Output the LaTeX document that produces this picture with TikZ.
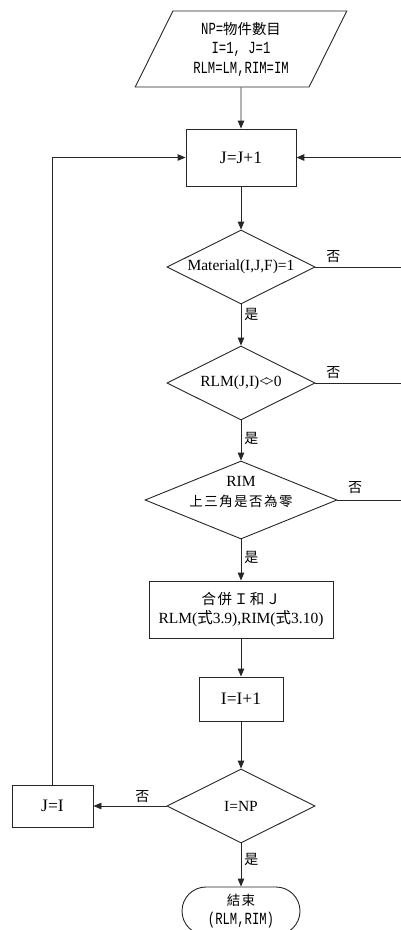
\documentclass[tikz,border=0pt]{standalone}
\usepackage{fontspec}
\setmainfont{Liberation Serif}
\newfontfamily\cjk{Noto Sans CJK TC}
\newfontfamily\cjksp[LetterSpace=11]{Noto Sans CJK TC}
\newfontfamily\mono[FakeStretch=0.72]{Liberation Mono}
\newcommand{\monot}[1]{{\mono\fontsize{17}{19.5}\selectfont #1}}
\newcommand{\cjkt}[1]{{\cjk\fontsize{14.4}{19.5}\selectfont #1}}
\usetikzlibrary{shapes.geometric,shapes.misc,arrows.meta}
\begin{document}
\begin{tikzpicture}[x=1pt,y=-1pt,
  every node/.style={inner sep=0pt},
  line/.style={draw=black!85, line width=0.9pt},
  arr/.style={line, -{Triangle[length=8pt,width=6.5pt]}},
  box/.style={draw=black!85, line width=0.9pt, rectangle, align=center,
    font=\fontsize{17.5}{20}\selectfont},
  dec/.style={draw=black!85, line width=0.9pt, diamond, align=center,
    font=\fontsize{15.5}{19}\selectfont},
  io/.style={draw=black!85, line width=0.9pt, trapezium, trapezium stretches=true,
    trapezium left angle=64, trapezium right angle=116, align=center,
    font=\fontsize{14.6}{19.5}\selectfont},
  term/.style={draw=black!85, line width=0.9pt, rounded rectangle, align=center,
    font=\fontsize{14.6}{19}\selectfont},
  lab/.style={font=\cjk\fontsize{14}{14}\selectfont, inner sep=3pt},
]
\useasboundingbox (0,0) rectangle (401,930);
\clip (0,0) rectangle (401,930);

\node[io, minimum width=212, minimum height=76] (start) at (241,49)
  {\monot{NP=}\cjkt{物件數目}\\\monot{I=1, J=1}\\\monot{RLM=LM,RIM=IM}};
\node[box, minimum width=110, minimum height=57] (j1) at (241,157.5) {J=J+1};
\node[dec, minimum width=148, minimum height=74, aspect=2] (d1) at (241,267) {Material(I,J,F)=1};
\node[dec, minimum width=148, minimum height=74, aspect=2] (d2) at (241,383) {RLM(J,I)<\kern-3pt>0};
\node[dec, minimum width=192, minimum height=78, aspect=2.46] (d3) at (241,500) {};
\node[align=center, font=\fontsize{15.5}{20}\selectfont] (d3t) at (241,492)
  {RIM\\{\cjksp\fontsize{13.5}{20}\selectfont 上三角是否為零}};
\node[box, minimum width=184, minimum height=57, font=\fontsize{15.5}{19}\selectfont] (mg) at (241,609.5)
  {{\cjksp\fontsize{14.5}{19}\selectfont 合併Ｉ和Ｊ}\\RLM({\cjk 式}3.9),RIM({\cjk 式}3.10)};
\node[box, minimum width=84, minimum height=44] (i1) at (241,699) {I=I+1};
\node[dec, minimum width=148, minimum height=74, aspect=2] (d4) at (241,806) {I=NP};
\node[box, minimum width=81, minimum height=42] (ji) at (52.5,806) {J=I};
\node[term, minimum width=118, minimum height=48] (end) at (241,911)
  {{\cjksp\fontsize{13.5}{19}\selectfont 結束}\\\monot{(RLM,RIM)}};

\coordinate (r0) at (401,157.5);
\coordinate (r1) at (401,267);
\coordinate (r2) at (401,383);
\coordinate (r3) at (401,500);

\draw[arr] (start.south) -- (j1.north);
\draw[arr] (j1.south) -- (d1.north);
\draw[arr] (d1.south) -- node[lab, pos=0.25, right] {是} (d2.north);
\draw[arr] (d2.south) -- node[lab, pos=0.45, right] {是} (d3.north);
\draw[arr] (d3.south) -- node[lab, pos=0.45, right] {是} (mg.north);
\draw[arr] (mg.south) -- (i1.north);
\draw[arr] (i1.south) -- (d4.north);
\draw[arr] (d4.south) -- node[lab, pos=0.38, right] {是} (end.north);
\draw[arr] (d4.west) -- node[lab, pos=0.33, above] {否} (ji.east);
\draw[arr] (ji.north) |- (j1.west);
\draw[line] (d1.east) -- node[lab, pos=0.21, above, inner sep=4pt] {否} (r1);
\draw[line] (d2.east) -- node[lab, pos=0.21, above, inner sep=4pt] {否} (r2);
\draw[line] (d3.east) -- node[lab, pos=0.28, above, inner sep=6pt] {否} (r3);
\draw[arr, line width=1.4pt] (r0) -- (j1.east);
\end{tikzpicture}
\end{document}
